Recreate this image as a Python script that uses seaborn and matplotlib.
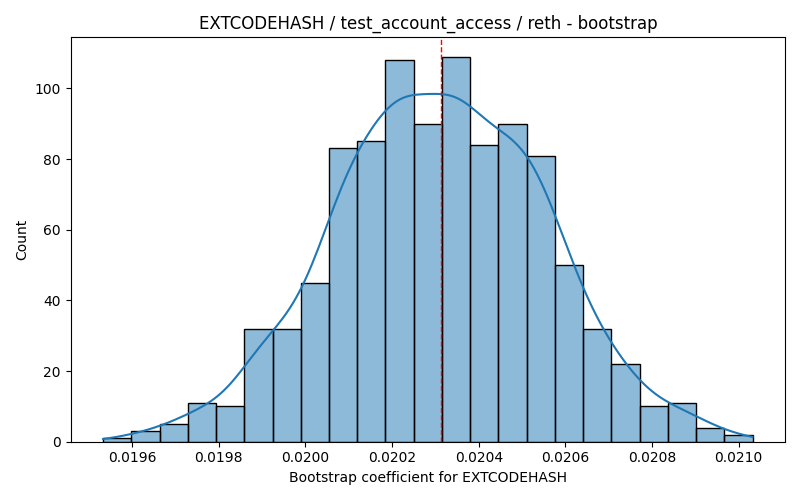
import numpy as np
import pandas as pd
import matplotlib
matplotlib.use("Agg")
import matplotlib.pyplot as plt
import seaborn as sns

# bootstrap histogram (23 bins)
lo = 0.019533
hi = 0.021032
counts = [1, 3, 5, 11, 10, 32, 32, 45, 83, 85, 108, 90,
          109, 84, 90, 81, 50, 32, 22, 10, 11, 4, 2]
median_val = 0.020313

opcode = "EXTCODEHASH"
test = "test_account_access"
client = "reth"

edges = np.linspace(lo, hi, len(counts) + 1)
centers = (edges[:-1] + edges[1:]) / 2
# one row per bootstrap sample, placed at its bin centre
df = pd.DataFrame({"coef": np.repeat(centers, counts)})

fig, ax = plt.subplots(figsize=(8, 5), dpi=100)
sns.histplot(data=df, x="coef", bins=len(counts),
             binrange=(lo, hi), kde=True, edgecolor="black", ax=ax,
             kde_kws={"cut": 1, "clip": (lo, hi)})
ax.axvline(median_val, color="red", linestyle="--", linewidth=1)
ax.set_title("{} / {} / {} - bootstrap".format(opcode, test, client))
ax.set_xlabel("Bootstrap coefficient for {}".format(opcode))
ax.set_ylabel("Count")
plt.tight_layout()
plt.savefig("out.png")
